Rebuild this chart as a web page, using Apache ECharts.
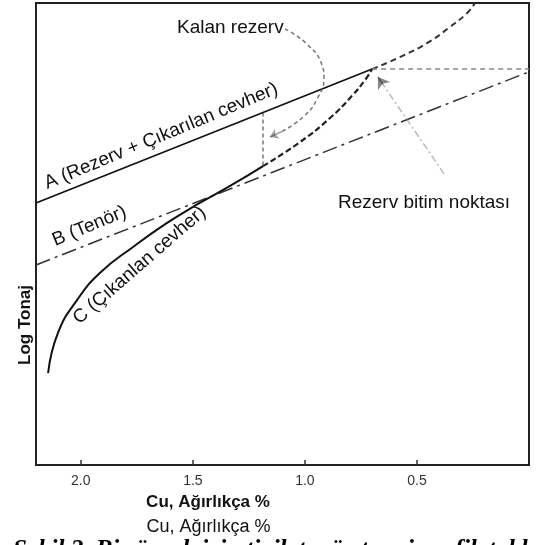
<!DOCTYPE html>
<html>
<head>
<meta charset="utf-8">
<script src="https://cdn.jsdelivr.net/npm/echarts@6/dist/echarts.min.js"></script>
<style>
html,body{margin:0;padding:0;background:#fff;}
#main{width:536px;height:545px;}
</style>
</head>
<body>
<div id="main"></div>
<script>
// Tick labels on the (reversed) Cu grade axis
const xTicks = [2.0, 1.5, 1.0, 0.5];
// A (Rezerv + Çıkarılan cevher) – straight line
const lineA = [[2.2, 56.7], [0.70, 85.7]];
// B (Tenör) – dash-dot straight line
const lineB = [[2.2, 43.3], [0.0, 85.1]];
// C (Çıkanlan cevher) – solid part
const curveCSolid = [[2.146, 19.9], [2.102, 28.6], [2.017, 35.7], [1.914, 41.6], [1.767, 47.2], [1.615, 52.4], [1.477, 56.5], [1.334, 60.4], [1.187, 64.7]];
// C – dashed continuation up to the reserve end point
const curveCDashed = [[1.187, 64.7], [1.022, 69.9], [0.888, 75.1], [0.790, 79.9], [0.732, 83.3], [0.70, 85.7]];
// dashed curve beyond the end point
const curveUpper = [[0.70, 85.7], [0.576, 88.3], [0.455, 91.3], [0.353, 94.8], [0.277, 97.8], [0.241, 100]];
// horizontal dotted line from end point
const horizLine = [[0.70, 85.7], [0.0, 85.7]];
// vertical dashed line between A and C
const vertLine = [[1.187, 76.3], [1.187, 64.7]];
// "Kalan rezerv" curved pointer
const kalanCurve = [[1.089, 94.4], [0.991, 91.1], [0.924, 86.6], [0.915, 83.8], [0.946, 79.2], [1.004, 75.5], [1.098, 72.3]];
const kalanHead = [[1.098, 72.3], [1.156, 71.0]];
// "Rezerv bitim noktası" pointer (shaft and head)
const bitimShaft = [[0.379, 63.0], [0.652, 82.4]];
const bitimHead = [[0.652, 82.4], [0.674, 84.0]];

const chart = echarts.init(document.getElementById('main'), null, {renderer: 'canvas'});
const SANS = 'Liberation Sans, Arial, Helvetica, sans-serif';
const deg = Math.PI / 180;

function lineSeries(data, color, width, type, smooth) {
  return {
    type: 'line', data: data, symbol: 'none', smooth: smooth || false,
    lineStyle: {color: color, width: width, type: type},
    silent: true, z: 3
  };
}
function arrowSeries(data, color, width, type, size, head) {
  return {
    type: 'lines', coordinateSystem: 'cartesian2d', silent: true, z: 4,
    symbol: ['none', head ? 'arrow' : 'none'], symbolSize: size,
    lineStyle: {color: color, width: width, type: type},
    data: [{coords: data}]
  };
}

chart.setOption({
  animation: false,
  backgroundColor: '#fff',
  grid: {left: 36, right: 7, top: 3, bottom: 80, show: true, borderColor: '#222', borderWidth: 2, backgroundColor: 'transparent'},
  xAxis: {
    type: 'value', min: 0, max: 2.2, inverse: true,
    name: 'Cu, Ağırlıkça %', nameLocation: 'middle', nameGap: 53,
    nameTextStyle: {fontFamily: SANS, fontSize: 18, color: '#111', padding: [0, 148, 0, 0]},
    axisLine: {show: true, lineStyle: {color: '#222', width: 2}},
    axisTick: {show: true, inside: true, length: 5, customValues: xTicks, lineStyle: {color: '#333', width: 1.5}},
    axisLabel: {customValues: xTicks, formatter: v => v.toFixed(1), fontFamily: SANS, fontSize: 14, color: '#333', margin: 9},
    splitLine: {show: false}
  },
  yAxis: {
    type: 'value', min: 0, max: 100,
    axisLine: {show: false}, axisTick: {show: false}, axisLabel: {show: false}, splitLine: {show: false}
  },
  series: [
    lineSeries(lineA, '#111', 1.7, 'solid'),
    lineSeries(lineB, '#333', 1.5, [15, 5, 3, 5]),
    lineSeries(curveCSolid, '#111', 2, 'solid', true),
    lineSeries(curveCDashed, '#222', 2.2, [6, 3], true),
    lineSeries(curveUpper, '#333', 2, [6, 4], true),
    lineSeries(horizLine, '#888', 1.5, [5, 4]),
    lineSeries(vertLine, '#333', 1, [4, 3]),
    lineSeries(kalanCurve, '#777', 1.5, [4, 3], true),
    arrowSeries(kalanHead, '#444', 1.5, 'solid', 8, true),
    arrowSeries(bitimShaft, '#777', 1.5, [7, 3, 2, 3], 0, false),
    arrowSeries(bitimHead, '#111', 1.5, 'solid', 11, true)
  ],
  graphic: [
    {type: 'text', x: 49, y: 193, rotation: 22.5 * deg, silent: true,
      style: {text: 'A (Rezerv + Çıkarılan cevher)', font: '19px ' + SANS, fill: '#111', align: 'left', verticalAlign: 'bottom'}},
    {type: 'text', x: 57, y: 250, rotation: 22.5 * deg, silent: true,
      style: {text: 'B (Tenör)', font: '19px ' + SANS, fill: '#111', align: 'left', verticalAlign: 'bottom'}},
    {type: 'text', x: 82, y: 328, rotation: 41 * deg, silent: true,
      style: {text: 'C (Çıkanlan cevher)', font: '19px ' + SANS, fill: '#111', align: 'left', verticalAlign: 'bottom'}},
    {type: 'text', x: 25, y: 325, rotation: 90 * deg, silent: true,
      style: {text: 'Log Tonaj', font: 'bold 17px ' + SANS, fill: '#111', align: 'center', verticalAlign: 'middle'}},
    {type: 'text', x: 177, y: 28, silent: true,
      style: {text: 'Kalan rezerv', font: '19px ' + SANS, fill: '#111', align: 'left', verticalAlign: 'middle'}},
    {type: 'text', x: 338, y: 203, silent: true,
      style: {text: 'Rezerv bitim noktası', font: '19px ' + SANS, fill: '#111', align: 'left', verticalAlign: 'middle'}},
    {type: 'text', x: 208, y: 502, silent: true,
      style: {text: 'Cu, Ağırlıkça %', font: 'bold 17px ' + SANS, fill: '#111', align: 'center', verticalAlign: 'middle'}},
    {type: 'text', x: 13, y: 538, silent: true,
      style: {text: 'Şekil 2. Bir örnek için tipik tenör-tonaj grafik tablo', font: 'italic bold 25px "Liberation Serif", "Times New Roman", serif', fill: '#000', align: 'left', verticalAlign: 'top'}}
  ]
});
</script>
</body>
</html>
